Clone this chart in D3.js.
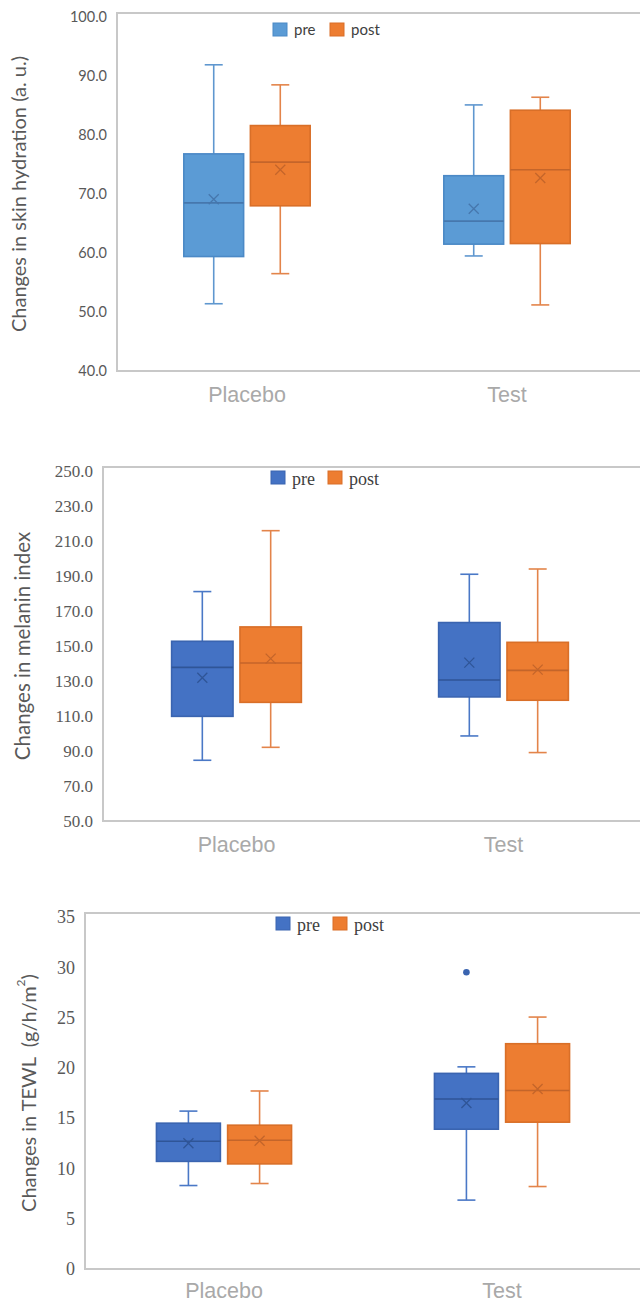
<!DOCTYPE html>
<html>
<head>
<meta charset="utf-8">
<script src="https://d3js.org/d3.v7.min.js"></script>
<style>
body { margin: 0; background: #fff; }
svg { display: block; }
</style>
</head>
<body>
<svg id="chart"></svg>
<script>
// each box row: [min, q1, median, q3, max, mean], one row per category
var categories = ["Placebo", "Test"];
var seriesNames = ["pre", "post"];

var hydrationPre  = [[51.4, 59.4, 68.5, 76.8, 91.9, 69.1], [59.5, 61.5, 65.4, 73.1, 85.1, 67.5]];
var hydrationPost = [[56.5, 68.0, 75.4, 81.6, 88.5, 74.1], [51.2, 61.6, 74.1, 84.2, 86.4, 72.7]];
var hydrationTicks = [40, 50, 60, 70, 80, 90, 100];

var melaninPre  = [[84.7, 109.8, 137.8, 152.7, 181.1, 131.9], [98.6, 120.9, 130.6, 163.4, 191.0, 140.5]];
var melaninPost = [[92.1, 117.8, 140.3, 160.9, 215.9, 142.8], [89.1, 119.0, 136.1, 152.1, 194.0, 136.5]];
var melaninTicks = [50, 70, 90, 110, 130, 150, 170, 190, 210, 230, 250];

var tewlPre  = [[8.3, 10.7, 12.7, 14.5, 15.7, 12.5], [6.85, 13.9, 16.9, 19.45, 20.1, 16.5]];
var tewlPost = [[8.5, 10.45, 12.8, 14.3, 17.7, 12.75], [8.2, 14.6, 17.75, 22.4, 25.05, 17.9]];
var tewlPreOutliers  = [[], [29.5]];
var tewlPostOutliers = [[], []];
var tewlTicks = [0, 5, 10, 15, 20, 25, 30, 35];

var svg = d3.select("#chart").attr("width", 640).attr("height", 1303);

var sans = "Lato, 'DejaVu Sans', sans-serif";
var serif = "'Liberation Serif', 'DejaVu Serif', serif";

function drawPanel(p) {
    var y = d3.scaleLinear().domain(p.domain).range([p.bottom, p.top]);
    var x = d3.scaleBand().domain(categories).range([p.left, p.right]);
    var bw = x.bandwidth();
    var w = bw * 0.23, gap = bw * 0.026;
    var xs = d3.scaleBand().domain(seriesNames)
        .range([bw / 2 - w - gap / 2, bw / 2 + w + gap / 2])
        .paddingInner(gap / (w + gap));

    var g = svg.append("g");

    // plot frame (runs off the right edge like the original crop)
    g.append("rect")
        .attr("x", p.left).attr("y", p.top - 4)
        .attr("width", 700 - p.left).attr("height", p.bottom - p.top + 4)
        .attr("fill", "none").attr("stroke", "#c8c8c8").attr("stroke-width", 2);

    // y axis labels
    g.append("g")
        .attr("transform", "translate(" + p.left + ",0)")
        .call(d3.axisLeft(y).tickValues(p.ticks).tickFormat(d3.format(p.fmt)).tickSize(0).tickPadding(10))
        .call(function(a) {
            a.select(".domain").remove();
            a.attr("font-family", p.tickFont).attr("font-size", p.tickSize);
            a.selectAll("text").attr("fill", "#595959");
        });

    // category labels
    g.append("g")
        .attr("transform", "translate(0," + p.bottom + ")")
        .call(d3.axisBottom(x).tickSize(0).tickPadding(p.xPad || 16))
        .call(function(a) {
            a.select(".domain").remove();
            a.attr("font-family", "'Liberation Sans', Arial, sans-serif").attr("font-size", 21.5);
            a.selectAll("text").attr("fill", "#a9a9a9");
        });

    // y title
    var t = g.append("text")
        .attr("transform", "translate(" + p.titleX + "," + (p.top + p.bottom) / 2 + ") rotate(-90)")
        .attr("text-anchor", "middle")
        .attr("dominant-baseline", "central")
        .attr("font-family", sans).attr("font-size", p.titleSize)
        .attr("fill", "#595959")
        .style("white-space", "pre")
        .text(p.title);
    if (p.titleSup) {
        t.append("tspan").attr("baseline-shift", "super").attr("font-size", p.titleSize * 0.6).text(p.titleSup);
        t.append("tspan").text(")");
    }

    // boxes
    p.series.forEach(function(rows, si) {
        var s = seriesNames[si], c = p.colors[si];
        rows.forEach(function(d, ci) {
            var x0 = x(categories[ci]) + xs(s), cx = x0 + w / 2;
            var bg = g.append("g");
            // whiskers
            bg.append("line").attr("x1", cx).attr("x2", cx).attr("y1", y(d[4])).attr("y2", y(d[3]))
                .attr("stroke", c.whisker).attr("stroke-width", 1.6);
            bg.append("line").attr("x1", cx).attr("x2", cx).attr("y1", y(d[1])).attr("y2", y(d[0]))
                .attr("stroke", c.whisker).attr("stroke-width", 1.6);
            [d[0], d[4]].forEach(function(v) {
                bg.append("line").attr("x1", cx - 9).attr("x2", cx + 9).attr("y1", y(v)).attr("y2", y(v))
                    .attr("stroke", c.whisker).attr("stroke-width", 1.6);
            });
            bg.append("rect").attr("x", x0).attr("width", w)
                .attr("y", y(d[3])).attr("height", y(d[1]) - y(d[3]))
                .attr("fill", c.fill).attr("stroke", c.stroke).attr("stroke-width", 1.6);
            bg.append("line").attr("x1", x0).attr("x2", x0 + w).attr("y1", y(d[2])).attr("y2", y(d[2]))
                .attr("stroke", c.median).attr("stroke-width", 1.6);
            bg.append("path")
                .attr("transform", "translate(" + cx + "," + y(d[5]) + ")")
                .attr("d", "M-5,-5L5,5M-5,5L5,-5")
                .attr("stroke", c.median).attr("stroke-width", 1.3).attr("fill", "none");
            if (p.outliers) {
                p.outliers[si][ci].forEach(function(v) {
                    bg.append("circle").attr("cx", cx).attr("cy", y(v)).attr("r", 3.3).attr("fill", c.stroke);
                });
            }
        });
    });

    // legend
    var lg = g.append("g").attr("transform", "translate(" + p.legendX + "," + p.legendY + ")");
    seriesNames.forEach(function(s, i) {
        var c = p.colors[i];
        lg.append("rect").attr("x", i * 57).attr("y", -6.5).attr("width", 14).attr("height", 13)
            .attr("fill", c.fill).attr("stroke", c.stroke).attr("stroke-width", 1);
        lg.append("text").attr("x", i * 57 + 21).attr("y", p.legendDy)
            .attr("font-family", p.legendFont).attr("font-size", p.legendSize)
            .attr("fill", "#404040").text(s);
    });
}

var lightBlue = { fill: "#5b9bd5", stroke: "#4b89c6", whisker: "#5f97cf", median: "#4677ad" };
var darkBlue  = { fill: "#4472c4", stroke: "#3a64b0", whisker: "#4a78c6", median: "#2f5597" };
var orange    = { fill: "#ed7d31", stroke: "#d96f28", whisker: "#e3844a", median: "#c4652a" };

drawPanel({
    top: 17, bottom: 371, left: 117, right: 637,
    domain: [40, 100], ticks: hydrationTicks, fmt: ".1f",
    tickFont: sans, tickSize: 14.5,
    series: [hydrationPre, hydrationPost], colors: [lightBlue, orange],
    title: "Changes in skin hydration (a. u.)", titleX: 18, titleSize: 20,
    legendX: 273, legendY: 29.5, legendDy: 5, legendFont: sans, legendSize: 15
});

drawPanel({
    top: 471, bottom: 821, left: 103, right: 637,
    domain: [50, 250], ticks: melaninTicks, fmt: ".1f",
    tickFont: serif, tickSize: 17,
    series: [melaninPre, melaninPost], colors: [darkBlue, orange],
    title: "Changes in melanin index", titleX: 22, titleSize: 20.5,
    legendX: 271, legendY: 477.5, legendDy: 7, legendFont: serif, legendSize: 18
});

drawPanel({
    top: 917, bottom: 1269, left: 85, right: 641,
    domain: [0, 35], ticks: tewlTicks, fmt: "d",
    tickFont: serif, tickSize: 18,
    series: [tewlPre, tewlPost], colors: [darkBlue, orange],
    outliers: [tewlPreOutliers, tewlPostOutliers],
    title: "Changes in TEWL  (g/h/m", titleSup: "2", titleX: 28, titleSize: 20,
    legendX: 276, legendY: 923.5, legendDy: 7, legendFont: serif, legendSize: 18,
    xPad: 14
});
</script>
</body>
</html>
